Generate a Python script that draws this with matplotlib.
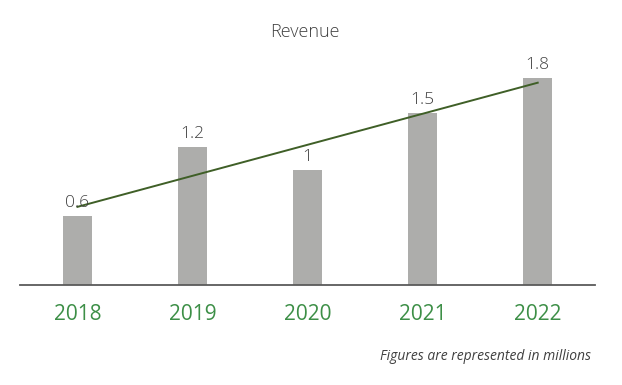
import numpy as np
import matplotlib.pyplot as plt

years = ['2018', '2019', '2020', '2021', '2022']
revenue = [0.6, 1.2, 1.0, 1.5, 1.8]
value_labels = ['0.6', '1.2', '1', '1.5', '1.8']

plt.rcParams['font.family'] = ['Open Sans', 'DejaVu Sans']

fig = plt.figure(figsize=(6.22, 3.85), dpi=100)
ax = fig.add_axes([0.032, 0.2597, 0.925, 0.627])

x = np.arange(len(years))
ax.bar(x, revenue, width=0.25, color='#adadab', zorder=2)

# linear trendline
m, b = np.polyfit(x, revenue, 1)
ax.plot(x[[0, -1]], m * x[[0, -1]] + b, color='#3f5f27', lw=1.4, zorder=3)

for xi, v, lab in zip(x, revenue, value_labels):
    ax.annotate(lab, (xi, v), xytext=(0, 3.5), textcoords='offset points',
                ha='center', va='bottom', fontsize=12.5, color='#404040',
                fontweight='light')

ax.set_xlim(-0.5, 4.5)
ax.set_ylim(0, 2.1)
ax.set_xticks(x)
ax.set_xticklabels(years, fontsize=15, color='#3d8f47')
ax.tick_params(axis='x', length=0, pad=14)
ax.set_yticks([])
for s in ['top', 'right', 'left']:
    ax.spines[s].set_visible(False)
ax.spines['bottom'].set_color('#5a5a5a')
ax.spines['bottom'].set_linewidth(1.3)

fig.text(0.49, 0.917, 'Revenue', ha='center', va='center', fontsize=13,
         color='#404040', fontweight='light')
fig.text(0.95, 0.073, 'Figures are represented in millions', ha='right', va='center',
         fontsize=10, style='italic', color='#404040')

plt.savefig('out.png', dpi=100)
